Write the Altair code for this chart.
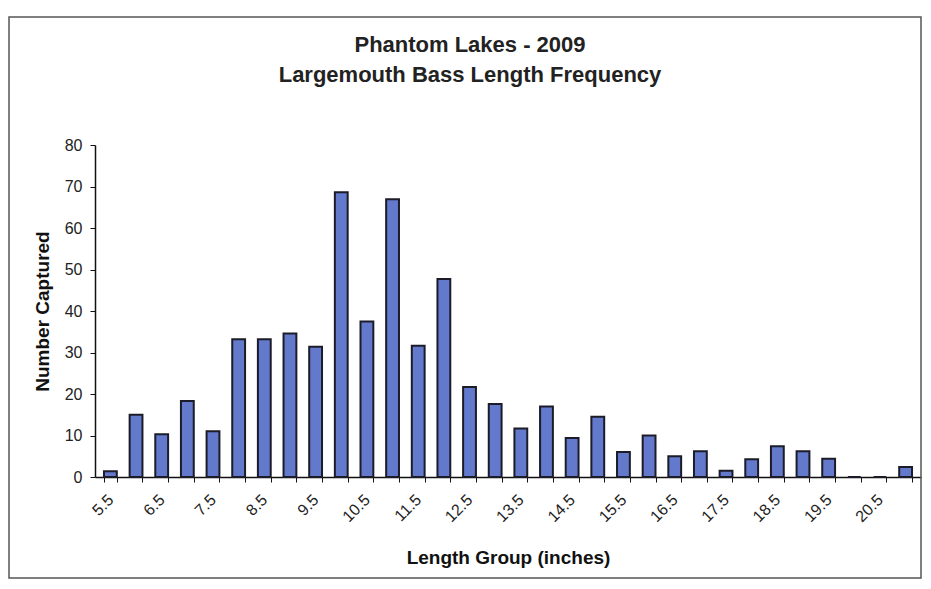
import altair as alt
import pandas as pd

lengths = ["5.5", "6.0", "6.5", "7.0", "7.5", "8.0", "8.5", "9.0", "9.5", "10.0",
           "10.5", "11.0", "11.5", "12.0", "12.5", "13.0", "13.5", "14.0", "14.5", "15.0",
           "15.5", "16.0", "16.5", "17.0", "17.5", "18.0", "18.5", "19.0", "19.5", "20.0",
           "20.5", "21.0"]
counts = [1.4, 15, 10.3, 18.3, 11, 33.2, 33.2, 34.6, 31.4, 68.6,
          37.5, 66.9, 31.6, 47.7, 21.7, 17.6, 11.7, 17.0, 9.4, 14.5,
          6.0, 10.0, 5.0, 6.2, 1.5, 4.3, 7.4, 6.2, 4.4, 0,
          0, 2.4]
tick_labels = ["5.5", "6.5", "7.5", "8.5", "9.5", "10.5", "11.5", "12.5", "13.5",
               "14.5", "15.5", "16.5", "17.5", "18.5", "19.5", "20.5"]
y_ticks = [0, 10, 20, 30, 40, 50, 60, 70, 80]

df = pd.DataFrame({"length": lengths, "count": counts})

FONT = "Liberation Sans"
arr = "[" + ",".join("'" + t + "'" for t in tick_labels) + "]"

bars = alt.Chart(df).mark_bar(
    fill="#6279cc", stroke="#1c1c28", strokeWidth=2
).encode(
    x=alt.X("length:N", sort=lengths,
            scale=alt.Scale(paddingInner=0.5, paddingOuter=0.35),
            axis=alt.Axis(title="Length Group (inches)", labelAngle=-45,
                          labelAlign="right", labelBaseline="middle",
                          tickBand="extent", labelOverlap=False,
                          labelExpr="indexof(" + arr + ", datum.label) >= 0 ? datum.label : ''",
                          labelFont=FONT, labelFontSize=16, labelColor="#222",
                          labelPadding=15, tickSize=5, tickColor="#111",
                          domainColor="#111", domainWidth=1.5,
                          titleFont=FONT, titleFontSize=19, titleFontWeight="bold",
                          titleColor="#111", titlePadding=24)),
    y=alt.Y("count:Q", scale=alt.Scale(domain=[0, 80]),
            axis=alt.Axis(title="Number Captured", values=y_ticks, grid=False,
                          labelFont=FONT, labelFontSize=16, labelColor="#222",
                          labelPadding=8, tickSize=5, tickColor="#111",
                          domainColor="#111", domainWidth=1.5,
                          titleFont=FONT, titleFontSize=19, titleFontWeight="bold",
                          titleColor="#111", titlePadding=12))
)

frame = alt.Chart(pd.DataFrame({"f": [0]})).mark_rect(
    fill=None, stroke="#555", strokeWidth=1.5, clip=False
).encode(
    x=alt.value(-86), x2=alt.value(826), y=alt.value(-128), y2=alt.value(433)
)

chart = alt.layer(frame, bars).properties(
    width=826, height=332,
    background="white",
    title=alt.TitleParams(
        text=["Phantom Lakes - 2009", "Largemouth Bass Length Frequency"],
        font=FONT, fontSize=22, fontWeight="bold", color="#222",
        anchor="middle", offset=0, dy=71, dx=-38, lineHeight=30
    ),
    autosize=alt.AutoSizeParams(type="none"),
    padding={"left": 87, "top": 137, "right": 2, "bottom": 103}
).configure_view(stroke=None)

chart.save("out.html", embed_options={"renderer": "svg", "actions": False})
